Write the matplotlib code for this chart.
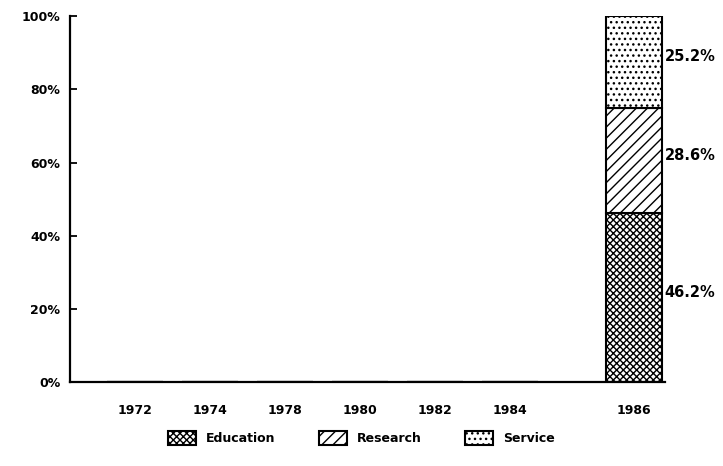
import matplotlib.pyplot as plt
import numpy as np

plt.rcParams['hatch.linewidth'] = 1.0

years = ["1972", "1974", "1978", "1980", "1982", "1984", "1986"]
education = [0, 0, 0, 0, 0, 0, 46.2]
research = [0, 0, 0, 0, 0, 0, 28.6]
service = [0, 0, 0, 0, 0, 0, 25.2]

# last year sits further right in the original
x = np.array([0, 1, 2, 3, 4, 5, 6.65])

fig = plt.figure(figsize=(7.23, 4.66), dpi=100)
ax = fig.add_axes([0.097, 0.18, 0.823, 0.785])

edu = np.array(education)
res = np.array(research)
srv = np.array(service)
w = 0.75

ax.bar(x, edu, width=w, color='white', edgecolor='black', hatch='xxxxx', linewidth=1.5, label='Education')
ax.bar(x, res, width=w, bottom=edu, color='white', edgecolor='black', hatch='///', linewidth=1.5, label='Research')
ax.bar(x, srv, width=w, bottom=edu + res, color='white', edgecolor='black', hatch='...', linewidth=1.5, label='Service')

# percentage labels beside the last bar
i = len(x) - 1
bottoms = [0, edu[i], edu[i] + res[i]]
for b, v in zip(bottoms, [edu[i], res[i], srv[i]]):
    ax.text(x[i] + w / 2 + 0.04, b + v / 2 + 1.5, f"{v:.1f}%", ha='left', va='center',
            fontsize=10.5, fontweight='bold')

ax.set_xlim(-0.87, 7.07)
ax.set_ylim(0, 100)
ax.set_xticks(x)
ax.set_xticklabels(years, fontsize=9, fontweight='bold')
ax.tick_params(axis='x', length=0, pad=16)
ax.set_yticks([0, 20, 40, 60, 80, 100])
ax.set_yticklabels([f"{t}%" for t in [0, 20, 40, 60, 80, 100]], fontsize=9, fontweight='bold')
ax.tick_params(axis='y', direction='in', length=5, width=1.3, pad=7)
ax.spines['top'].set_visible(False)
ax.spines['right'].set_visible(False)
ax.spines['left'].set_linewidth(1.6)
ax.spines['bottom'].set_linewidth(1.6)

leg = fig.legend(loc='lower center', bbox_to_anchor=(0.5, 0.02), ncol=3, frameon=False,
                 prop={'weight': 'bold', 'size': 9}, handlelength=2.2,
                 handleheight=1.3, columnspacing=3.5)

fig.savefig("out.png", dpi=100)
